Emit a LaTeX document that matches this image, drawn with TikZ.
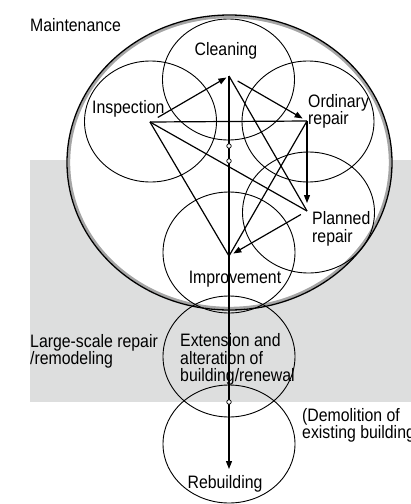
\documentclass[tikz,border=0pt]{standalone}
\usepackage{fontspec}
\setmainfont{Liberation Sans}[FakeStretch=0.88]
\usetikzlibrary{arrows.meta,shapes.geometric}
\definecolor{bandgray}{RGB}{221,222,222}
\definecolor{shadegray}{RGB}{165,165,165}
\begin{document}
\begin{tikzpicture}[x=1pt,y=-1pt,
  lbl/.style={inner sep=0pt, font=\fontsize{18}{17.5}\selectfont, align=left},
  ring/.style={draw, ellipse, line width=0.9pt, inner sep=0pt, minimum width=132pt, minimum height=121pt},
  conn/.style={line width=1.2pt},
  arr/.style={conn, -{Triangle[length=8pt,width=6pt]}},
  dotm/.style={circle, draw, fill=white, inner sep=0pt, minimum size=4.5pt, line width=0.7pt}]
\useasboundingbox (0,0) rectangle (411,504);
% gray band
\fill[bandgray] (30,160) rectangle (411,402);
% big maintenance ellipse
\fill[white] (229.5,162.5) ellipse [x radius=162.5, y radius=147.5];
\draw[shadegray, line width=2.6pt] (229.5,162.5) ellipse [x radius=160.6, y radius=145.6];
\node[draw, ellipse, line width=1.3pt, inner sep=0pt, minimum width=325pt, minimum height=295pt] (big) at (229.5,162.5) {};
% activity circles
\node[ring] (cleanE) at (228.5,79.5) {};
\node[ring] (inspE) at (150.5,121.5) {};
\node[ring] (ordE) at (308,121.5) {};
\node[ring] (planE) at (308.5,212.5) {};
\node[ring] (impE) at (229,252.5) {};
\node[ring] (extE) at (229,356.5) {};
\node[ring, minimum height=118pt] (rebE) at (229,444) {};
% connection points
\coordinate (I) at (150,122);
\coordinate (C) at (229,76);
\coordinate (O) at (307,121);
\coordinate (P) at (307,211);
\coordinate (M) at (229,256);
\coordinate (R) at (229,469);
% lines
\draw[conn] (I) -- (O);
\draw[conn] (I) -- (P);
\draw[conn] (C) -- (P);
\draw[conn] (I) -- (M);
\draw[conn] (O) -- (M);
\draw[arr, shorten <=9pt, shorten >=3pt] (I) -- (C);
\draw[arr, shorten <=10pt, shorten >=5pt] (C) -- (O);
\draw[arr, shorten >=8pt] (O) -- (P);
\draw[arr, shorten <=7pt, shorten >=5pt] (P) -- (M);
\draw[arr] (C) -- (R);
\node[dotm] (d1) at (229,146) {};
\node[dotm] (d2) at (229,161) {};
\node[dotm] (d3) at (229,402) {};
% labels (base anchor = baseline of last line)
\node[lbl, anchor=base west] (tMaint) at (30,31.5) {Maintenance};
\node[lbl, anchor=base] (tClean) at (226,55) {Cleaning};
\node[lbl, anchor=base west] (tInsp) at (92,113) {Inspection};
\node[lbl, anchor=base west] (tOrd) at (308,124.5) {Ordinary\\repair};
\node[lbl, anchor=base west] (tPlan) at (312,242) {Planned\\repair};
\node[lbl, anchor=base] (tImp) at (235,283) {Improvement};
\node[lbl, anchor=base west] (tExt) at (180,381.5) {Extension and\\alteration of\\building/renewal};
\node[lbl, anchor=base west] (tLarge) at (30,364.5) {Large-scale repair\\/remodeling};
\node[lbl, anchor=base west] (tDemo) at (302,438.5) {(Demolition of\\existing building)};
\node[lbl, anchor=base] (tReb) at (225,488) {Rebuilding};
\end{tikzpicture}
\end{document}
